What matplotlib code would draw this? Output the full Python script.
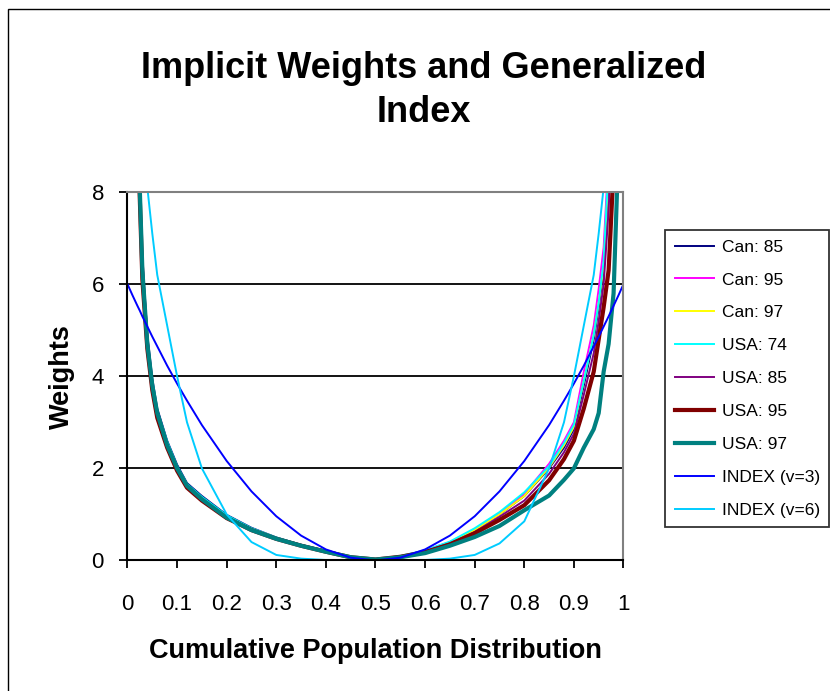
import matplotlib
matplotlib.use("Agg")
import matplotlib.pyplot as plt
from matplotlib.patches import Rectangle

plt.rcParams['font.family'] = ['Liberation Sans', 'DejaVu Sans']

# cumulative population share (x)
p = [0.0, 0.01, 0.02, 0.025, 0.03, 0.04, 0.05, 0.06, 0.08, 0.10, 0.12, 0.15,
     0.20, 0.25, 0.30, 0.35, 0.40, 0.45, 0.50, 0.55, 0.60, 0.65, 0.70, 0.75,
     0.80, 0.85, 0.88, 0.90, 0.92, 0.94, 0.95, 0.96, 0.97, 0.98, 0.99, 1.0]

can85 = [26, 14.5, 10.2, 8.3, 6.6, 4.9, 3.95, 3.3, 2.6, 2.08, 1.68, 1.4,
         0.99, 0.71, 0.5, 0.34, 0.21, 0.08, 0.02, 0.09, 0.21, 0.39, 0.66, 1.0,
         1.4, 2.0, 2.45, 2.85, 3.8, 4.8, 5.5, 6.3, 8.3, 11, 15, 20]
can95 = [25, 14, 9.9, 8.1, 6.4, 4.75, 3.85, 3.2, 2.55, 2.02, 1.64, 1.36,
         0.96, 0.69, 0.49, 0.33, 0.2, 0.08, 0.02, 0.09, 0.22, 0.4, 0.68, 1.03,
         1.45, 2.1, 2.6, 3.0, 4.1, 5.1, 5.9, 6.8, 8.8, 12, 16, 21]
can97 = [25, 14, 9.9, 8.1, 6.4, 4.75, 3.85, 3.2, 2.55, 2.02, 1.64, 1.36,
         0.96, 0.69, 0.49, 0.33, 0.2, 0.08, 0.02, 0.09, 0.21, 0.39, 0.66, 1.0,
         1.4, 2.02, 2.5, 2.9, 3.9, 4.9, 5.6, 6.4, 8.5, 11.5, 15, 20]
usa74 = [25.5, 14.2, 10, 8.2, 6.5, 4.8, 3.9, 3.25, 2.58, 2.05, 1.66, 1.38,
         0.98, 0.7, 0.5, 0.34, 0.21, 0.08, 0.02, 0.1, 0.22, 0.41, 0.7, 1.05,
         1.48, 2.05, 2.55, 2.95, 3.9, 4.9, 5.6, 6.5, 8.6, 11.5, 15, 20]
usa85 = [24.5, 13.8, 9.7, 7.9, 6.2, 4.65, 3.75, 3.15, 2.5, 1.98, 1.6, 1.33,
         0.94, 0.67, 0.47, 0.32, 0.19, 0.08, 0.02, 0.08, 0.2, 0.37, 0.62, 0.95,
         1.3, 1.88, 2.35, 2.75, 3.6, 4.5, 5.2, 6.0, 7.6, 10, 14, 19]
usa95 = [24, 13.5, 9.5, 7.8, 6.1, 4.6, 3.7, 3.1, 2.45, 1.95, 1.58, 1.3,
         0.92, 0.66, 0.47, 0.32, 0.19, 0.07, 0.02, 0.08, 0.18, 0.35, 0.59, 0.88,
         1.2, 1.74, 2.2, 2.6, 3.3, 4.1, 4.8, 5.5, 6.3, 8.5, 12, 16]
usa97 = [25, 14, 9.8, 8.0, 6.3, 4.7, 3.8, 3.2, 2.5, 2.0, 1.62, 1.33,
         0.93, 0.66, 0.47, 0.32, 0.19, 0.07, 0.02, 0.07, 0.16, 0.32, 0.51, 0.75,
         1.09, 1.41, 1.75, 2.0, 2.45, 2.85, 3.2, 4.1, 4.7, 5.8, 9, 12]
index_v3 = [6.0, 5.76, 5.53, 5.42, 5.30, 5.08, 4.86, 4.65, 4.23, 3.84, 3.47, 2.94,
            2.16, 1.5, 0.96, 0.54, 0.24, 0.06, 0.0, 0.06, 0.24, 0.54, 0.96, 1.5,
            2.16, 2.94, 3.47, 3.84, 4.23, 4.65, 4.86, 5.08, 5.30, 5.53, 5.76, 6.0]
index_v6 = [11.5, 10.6, 9.8, 9.4, 9.0, 8.1, 7.1, 6.2, 5.1, 4.0, 3.0, 2.0,
            1.0, 0.4, 0.12, 0.04, 0.01, 0.0, 0.0, 0.0, 0.01, 0.04, 0.12, 0.37,
            0.85, 2.0, 3.0, 4.0, 5.1, 6.2, 7.1, 8.1, 9.0, 9.8, 10.6, 11.5]

series = [
    ('Can: 85', can85, '#000080', 1.4),
    ('Can: 95', can95, '#FF00FF', 1.4),
    ('Can: 97', can97, '#FFFF00', 1.4),
    ('USA: 74', usa74, '#00FFFF', 1.4),
    ('USA: 85', usa85, '#800080', 1.4),
    ('USA: 95', usa95, '#800000', 3.0),
    ('USA: 97', usa97, '#008080', 3.0),
    ('INDEX (v=3)', index_v3, '#0000FF', 1.4),
    ('INDEX (v=6)', index_v6, '#00CCFF', 1.4),
]

fig = plt.figure(figsize=(8.3, 6.91), dpi=100)
ax = fig.add_axes([0.1536, 0.1889, 0.5976, 0.5332])

for name, vals, col, lw in series:
    ax.plot(p, vals, color=col, lw=lw, label=name)

ax.set_xlim(0, 1)
ax.set_ylim(0, 8)
ax.set_xticks([i / 10 for i in range(11)])
ax.set_xticklabels(['0', '0.1', '0.2', '0.3', '0.4', '0.5', '0.6', '0.7', '0.8', '0.9', '1'])
ax.set_yticks([0, 2, 4, 6, 8])
ax.tick_params(axis='both', direction='out', length=6, width=1.3, labelsize=16)
ax.tick_params(axis='x', pad=18)
ax.tick_params(axis='y', pad=11)

for y in [2, 4, 6]:
    ax.axhline(y, color='black', lw=1.3, zorder=0.5)

ax.spines['left'].set_linewidth(1.5)
ax.spines['bottom'].set_linewidth(1.5)
ax.spines['top'].set_color('#808080')
ax.spines['right'].set_color('#808080')
ax.spines['top'].set_linewidth(1.5)
ax.spines['right'].set_linewidth(1.5)

ax.set_xlabel('Cumulative Population Distribution', fontsize=19.5, fontweight='bold', labelpad=17)
ax.set_ylabel('Weights', fontsize=19.5, fontweight='bold', labelpad=12)

fig.text(0.511, 0.869, 'Implicit Weights and Generalized\nIndex', ha='center', va='center',
         fontsize=26, fontweight='bold', linespacing=1.3)

leg = fig.legend(loc='upper left', bbox_to_anchor=(665 / 830, 1 - 230 / 691),
                 fontsize=12.5, frameon=True, fancybox=False, edgecolor='black',
                 handlelength=2.25, handletextpad=0.46, labelspacing=1.02,
                 borderpad=0.55, borderaxespad=0)
leg.get_frame().set_linewidth(1.3)

# chart area border (only top/left visible in the reference crop)
fig.patches.append(Rectangle((8 / 830, -0.1), 1.2, 1 - 9 / 691 + 0.1, transform=fig.transFigure,
                             fill=False, edgecolor='black', lw=1.0))

fig.savefig('out.png', dpi=100)
